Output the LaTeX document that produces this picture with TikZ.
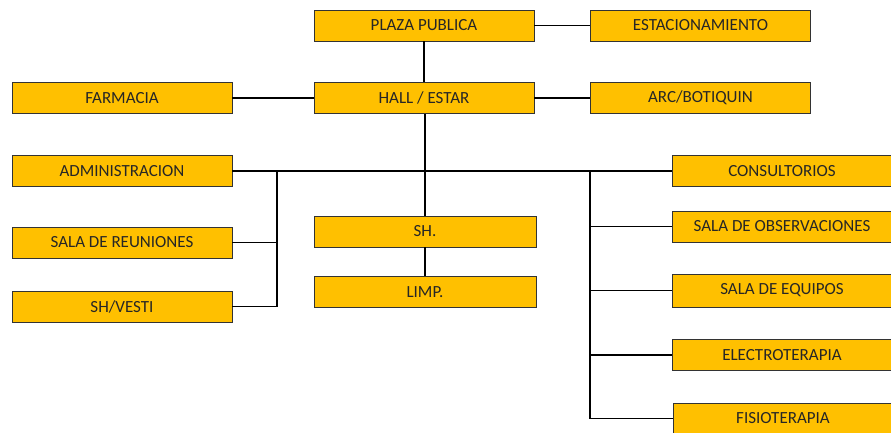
\documentclass[tikz,border=0pt]{standalone}
\usepackage{fontspec}
\setmainfont{Carlito}
\definecolor{oro}{HTML}{FFC000}
\tikzset{
  caja/.style={draw=black!80, line width=0.8pt, fill=oro, minimum width=220pt, minimum height=31pt, inner sep=0pt, font=\fontsize{17}{19}\selectfont, text=black!85},
  enlace/.style={line width=1.5pt}
}
\begin{document}
\begin{tikzpicture}[x=1pt,y=-1pt]
      \useasboundingbox (0,0) rectangle (891,432);
      \node[caja] (plaza) at (424,25.5) {PLAZA PUBLICA};
      \node[caja] (estac) at (700.5,25.5) {ESTACIONAMIENTO};
      \node[caja] (hall) at (424,98) {HALL / ESTAR};
      \node[caja] (farm) at (122,98) {FARMACIA};
      \node[caja] (arc) at (700.5,98) {ARC/BOTIQUIN};
      \node[caja] (admin) at (122,171) {ADMINISTRACION};
      \node[caja] (reun) at (122,242.5) {SALA DE REUNIONES};
      \node[caja] (vesti) at (122,306.5) {SH/VESTI};
      \node[caja, minimum width=222pt] (sh) at (425,231.5) {SH.};
      \node[caja, minimum width=222pt] (limp) at (425,292) {LIMP.};
      \node[caja] (consul) at (782,171) {CONSULTORIOS};
      \node[caja] (obs) at (782,226.5) {SALA DE OBSERVACIONES};
      \node[caja, minimum height=33pt] (equip) at (782,290.5) {SALA DE EQUIPOS};
      \node[caja] (electro) at (782,355) {ELECTROTERAPIA};
      \node[caja] (fisio) at (783,418.5) {FISIOTERAPIA};
      \coordinate (bizq) at (277,171);
      \coordinate (bder) at (590,171);
      \draw[enlace] (plaza) -- (estac);
      \draw[enlace] (plaza) -- (hall);
      \draw[enlace] (farm) -- (hall);
      \draw[enlace] (hall) -- (arc);
      \draw[enlace] (hall.south -| sh.north) -- (sh.north);
      \draw[enlace] (sh) -- (limp);
      \draw[enlace] (admin.east) -- (consul.west);
      \draw[enlace] (bizq) |- (reun.east);
      \draw[enlace] (bizq) |- (vesti.east);
      \foreach \n in {obs,equip,electro,fisio}
        \draw[enlace] (bder) |- (\n.west);
    \end{tikzpicture}
\end{document}
